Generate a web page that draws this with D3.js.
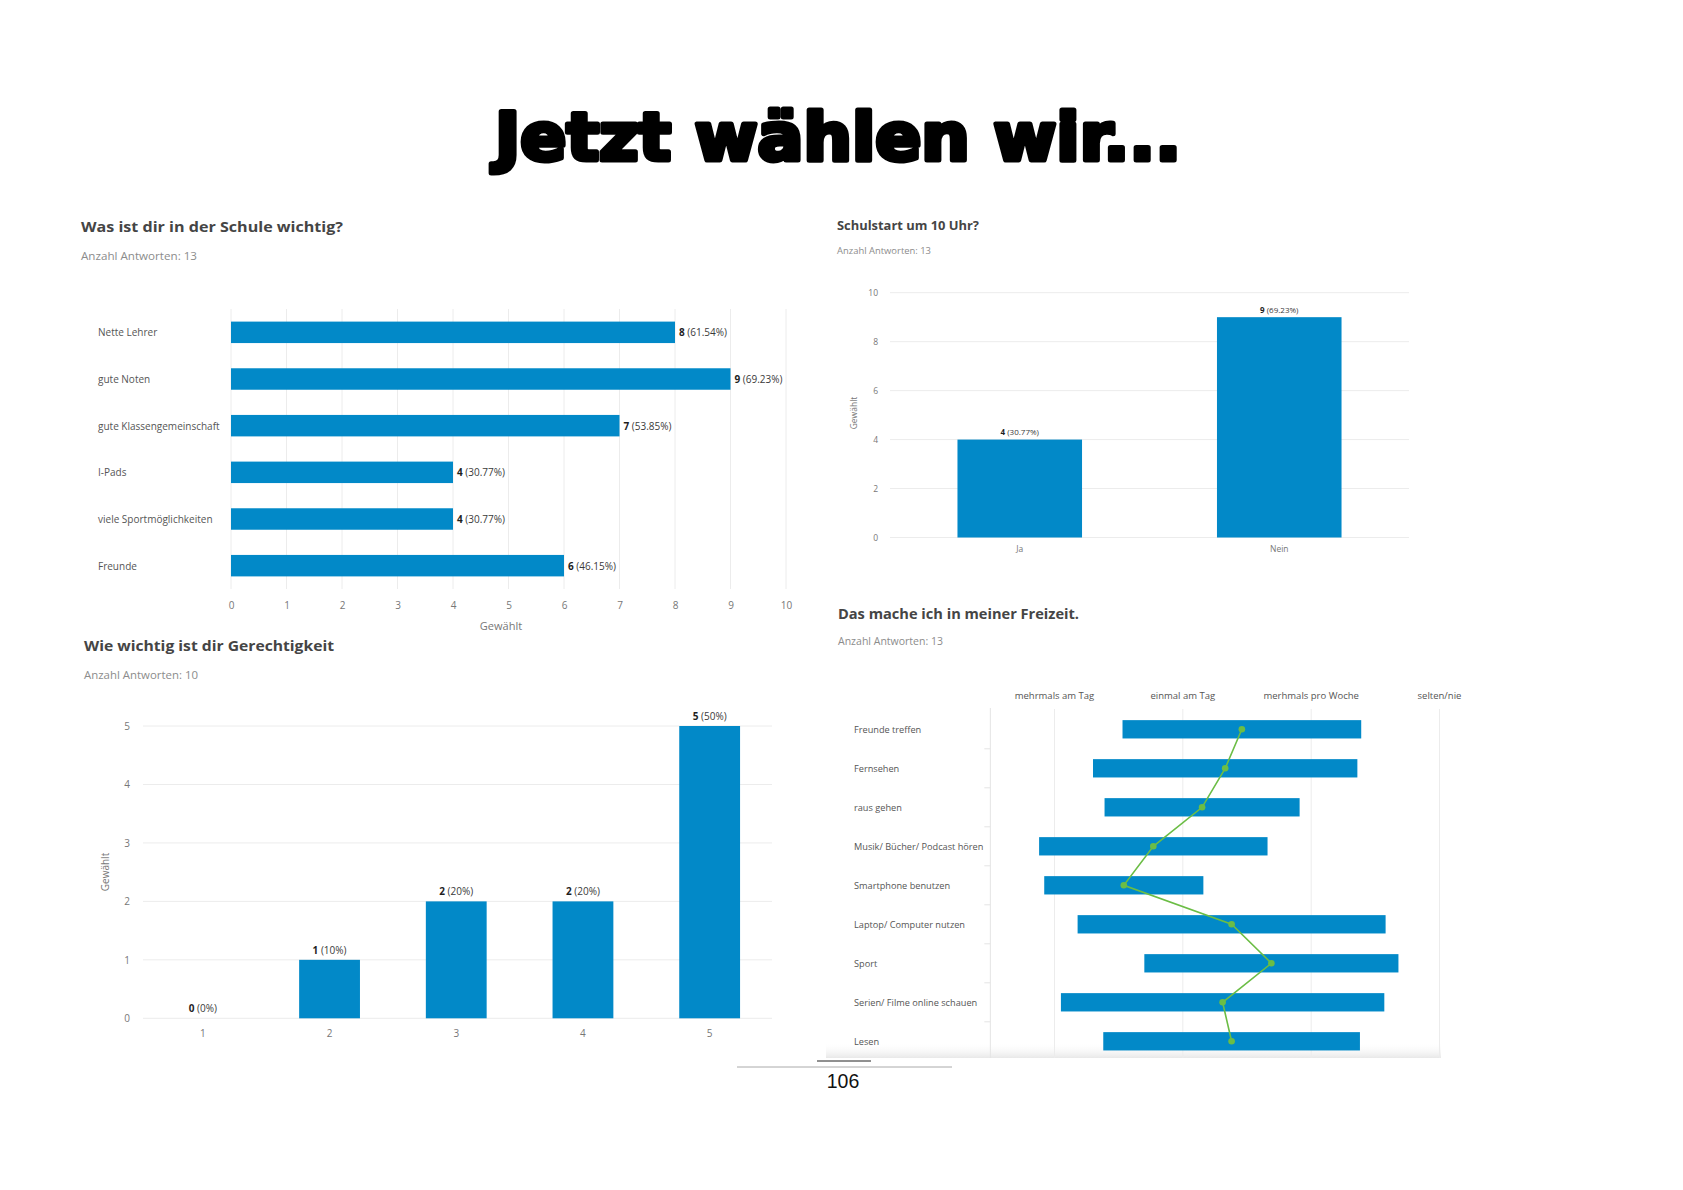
<!DOCTYPE html>
<html>
<head>
<meta charset="utf-8">
<script src="https://cdn.jsdelivr.net/npm/d3@7"></script>
<style>
    body { margin: 0; background: #fff; }
    text { font-family: "Open Sans", sans-serif; }
</style>
</head>
<body>
<div id="page"></div>
<script>
// --- Was ist dir in der Schule wichtig?
var schuleCategories = ["Nette Lehrer", "gute Noten", "gute Klassengemeinschaft", "I-Pads", "viele Sportmöglichkeiten", "Freunde"];
var schuleValues = [8, 9, 7, 4, 4, 6];
var schuleTicks = [0, 1, 2, 3, 4, 5, 6, 7, 8, 9, 10];
var schuleAnzahl = 13;

// --- Schulstart um 10 Uhr?
var startCategories = ["Ja", "Nein"];
var startValues = [4, 9];
var startTicks = [0, 2, 4, 6, 8, 10];
var startAnzahl = 13;

// --- Wie wichtig ist dir Gerechtigkeit
var gerechtCategories = ["1", "2", "3", "4", "5"];
var gerechtValues = [0, 1, 2, 2, 5];
var gerechtTicks = [0, 1, 2, 3, 4, 5];
var gerechtAnzahl = 10;

// --- Das mache ich in meiner Freizeit. (mean +/- sd on a 1..4 scale)
var freizeitCategories = ["Freunde treffen", "Fernsehen", "raus gehen", "Musik/ Bücher/ Podcast hören", "Smartphone benutzen",
    "Laptop/ Computer nutzen", "Sport", "Serien/ Filme online schauen", "Lesen"];
var freizeitMeans = [2.46, 2.33, 2.15, 1.77, 1.54, 2.38, 2.69, 2.31, 2.38];
var freizeitSd = [0.93, 1.03, 0.76, 0.89, 0.62, 1.20, 0.99, 1.26, 1.00];
var freizeitScale = ["mehrmals am Tag", "einmal am Tag", "merhmals pro Woche", "selten/nie"];
var freizeitAnzahl = 13;

var blue = "#0289c8",
    green = "#6bbd45",
    grid = "#ececec";

var svg = d3.select("#page").append("svg")
    .attr("width", 1683)
    .attr("height", 1190);

//squeeze a text to the width it has in the picture
function fit(sel, w) {
    sel.attr("textLength", w).attr("lengthAdjust", "spacingAndGlyphs");
    return sel;
}

function percent(v, n) {
    return "(" + (+(v / n * 100).toFixed(2)) + "%)";
}

function heading(x, y, title, size, w, sub, subY, subSize, subW) {
    fit(svg.append("text")
        .attr("x", x).attr("y", y)
        .attr("dominant-baseline", "central")
        .attr("font-size", size)
        .attr("font-weight", "bold")
        .attr("fill", "#454545")
        .text(title), w);
    fit(svg.append("text")
        .attr("x", x).attr("y", subY)
        .attr("dominant-baseline", "central")
        .attr("font-size", subSize)
        .attr("fill", "#8c8c8c")
        .text(sub), subW);
}

function valueLabel(g, x, y, v, n, anchor, size) {
    var t = g.append("text")
        .attr("x", x).attr("y", y)
        .attr("text-anchor", anchor)
        .attr("dominant-baseline", "central")
        .attr("font-size", size)
        .attr("fill", "#1e1e1e");
    t.append("tspan").attr("font-weight", "bold").text(v);
    t.append("tspan").attr("fill", "#3a3a3a").text(" " + percent(v, n));
}

function styleAxis(g, size) {
    g.select(".domain").remove();
    g.selectAll("text")
        .attr("font-family", "Open Sans")
        .attr("font-size", size)
        .attr("fill", "#777");
}

//page title
fit(svg.append("text")
    .attr("x", 838)
    .attr("y", 160)
    .attr("text-anchor", "middle")
    .style("font-family", "DejaVu Sans")
    .attr("font-weight", "bold")
    .attr("font-size", 66)
    .attr("fill", "#000")
    .attr("stroke", "#000")
    .attr("stroke-width", 5)
    .attr("stroke-linejoin", "round")
    .text("Jetzt wählen wir..."), 686);

// ================= chart 1: horizontal bars
heading(81, 226, "Was ist dir in der Schule wichtig?", 15, 262, "Anzahl Antworten: " + schuleAnzahl, 255, 11, 116);

var x1 = d3.scaleLinear().domain([0, 10]).range([231, 786]);
var y1 = d3.scaleBand().domain(schuleCategories).range([309, 589]).paddingInner(0.54).paddingOuter(0.27);
var c1 = svg.append("g");

c1.selectAll(".grid")
    .data(schuleTicks)
    .enter()
    .append("line")
    .attr("x1", function (d) { return x1(d); })
    .attr("x2", function (d) { return x1(d); })
    .attr("y1", 309)
    .attr("y2", 589)
    .attr("stroke", grid);

var ax1 = c1.append("g")
    .attr("transform", "translate(0,602)")
    .call(d3.axisBottom(x1).tickValues(schuleTicks).tickFormat(d3.format("d")).tickSize(0).tickPadding(0));
styleAxis(ax1, 10);

c1.append("text")
    .attr("x", 501).attr("y", 625)
    .attr("text-anchor", "middle")
    .attr("dominant-baseline", "central")
    .attr("font-size", 11)
    .attr("fill", "#777")
    .text("Gewählt");

c1.selectAll(".cat")
    .data(schuleCategories)
    .enter()
    .append("text")
    .attr("x", 98)
    .attr("y", function (d) { return y1(d) + y1.bandwidth() / 2; })
    .attr("dominant-baseline", "central")
    .attr("font-size", 10)
    .attr("fill", "#555")
    .text(function (d) { return d; });

c1.selectAll(".bar")
    .data(schuleValues)
    .enter()
    .append("rect")
    .attr("x", x1(0))
    .attr("y", function (d, i) { return y1(schuleCategories[i]); })
    .attr("width", function (d) { return x1(d) - x1(0); })
    .attr("height", y1.bandwidth())
    .attr("fill", blue);

schuleValues.forEach(function (d, i) {
    valueLabel(c1, x1(d) + 4, y1(schuleCategories[i]) + y1.bandwidth() / 2, d, schuleAnzahl, "start", 10);
});

// ================= chart 2: Schulstart
heading(837, 225, "Schulstart um 10 Uhr?", 13, 142, "Anzahl Antworten: " + startAnzahl, 250, 9.5, 94);

var x2 = d3.scaleBand().domain(startCategories).range([890, 1409]).paddingInner(0.52).paddingOuter(0.26);
var y2 = d3.scaleLinear().domain([0, 10]).range([537.5, 292.7]);
var c2 = svg.append("g");

c2.selectAll(".grid")
    .data(startTicks)
    .enter()
    .append("line")
    .attr("x1", 890)
    .attr("x2", 1409)
    .attr("y1", function (d) { return y2(d); })
    .attr("y2", function (d) { return y2(d); })
    .attr("stroke", grid);

var ay2 = c2.append("g")
    .attr("transform", "translate(878,0)")
    .call(d3.axisLeft(y2).tickValues(startTicks).tickFormat(d3.format("d")).tickSize(0).tickPadding(0));
styleAxis(ay2, 8.5);

var ax2 = c2.append("g")
    .attr("transform", "translate(0,546)")
    .call(d3.axisBottom(x2).tickSize(0).tickPadding(0));
styleAxis(ax2, 8.5);

c2.append("text")
    .attr("transform", "translate(853,413) rotate(-90)")
    .attr("text-anchor", "middle")
    .attr("dominant-baseline", "central")
    .attr("font-size", 8.5)
    .attr("fill", "#777")
    .text("Gewählt");

c2.selectAll(".bar")
    .data(startValues)
    .enter()
    .append("rect")
    .attr("x", function (d, i) { return x2(startCategories[i]); })
    .attr("y", function (d) { return y2(d); })
    .attr("width", x2.bandwidth())
    .attr("height", function (d) { return y2(0) - y2(d); })
    .attr("fill", blue);

startValues.forEach(function (d, i) {
    valueLabel(c2, x2(startCategories[i]) + x2.bandwidth() / 2, y2(d) - 8.5, d, startAnzahl, "middle", 8);
});

// ================= chart 3: Gerechtigkeit
heading(84, 645, "Wie wichtig ist dir Gerechtigkeit", 15, 250, "Anzahl Antworten: " + gerechtAnzahl, 674, 11, 114);

var x3 = d3.scaleBand().domain(gerechtCategories).range([139.5, 773]).paddingInner(0.52).paddingOuter(0.26);
var y3 = d3.scaleLinear().domain([0, 5]).range([1018.3, 726]);
var c3 = svg.append("g");

c3.selectAll(".grid")
    .data(gerechtTicks)
    .enter()
    .append("line")
    .attr("x1", 143)
    .attr("x2", 772)
    .attr("y1", function (d) { return y3(d); })
    .attr("y2", function (d) { return y3(d); })
    .attr("stroke", grid);

var ay3 = c3.append("g")
    .attr("transform", "translate(130,0)")
    .call(d3.axisLeft(y3).tickValues(gerechtTicks).tickFormat(d3.format("d")).tickSize(0).tickPadding(0));
styleAxis(ay3, 10);

var ax3 = c3.append("g")
    .attr("transform", "translate(0,1030)")
    .call(d3.axisBottom(x3).tickSize(0).tickPadding(0));
styleAxis(ax3, 10);

c3.append("text")
    .attr("transform", "translate(105,872) rotate(-90)")
    .attr("text-anchor", "middle")
    .attr("dominant-baseline", "central")
    .attr("font-size", 10)
    .attr("fill", "#777")
    .text("Gewählt");

c3.selectAll(".bar")
    .data(gerechtValues)
    .enter()
    .append("rect")
    .attr("x", function (d, i) { return x3(gerechtCategories[i]); })
    .attr("y", function (d) { return y3(d); })
    .attr("width", x3.bandwidth())
    .attr("height", function (d) { return y3(0) - y3(d); })
    .attr("fill", blue);

gerechtValues.forEach(function (d, i) {
    valueLabel(c3, x3(gerechtCategories[i]) + x3.bandwidth() / 2, y3(d) - 10, d, gerechtAnzahl, "middle", 10);
});

// ================= chart 4: Freizeit (range bars + mean line)
heading(838, 613, "Das mache ich in meiner Freizeit.", 15, 241, "Anzahl Antworten: " + freizeitAnzahl, 640, 11, 105);

var x4 = d3.scaleLinear().domain([1, 4]).range([1054.5, 1439.5]);
var y4 = d3.scaleBand().domain(freizeitCategories).range([709.8, 1060.8]).paddingInner(0.53).paddingOuter(0.265);
var c4 = svg.append("g");

//soft shadow at the bottom of the screenshot
var grad = svg.append("defs").append("linearGradient")
    .attr("id", "fade").attr("x1", 0).attr("x2", 0).attr("y1", 0).attr("y2", 1);
grad.append("stop").attr("offset", 0).attr("stop-color", "#fff").attr("stop-opacity", 0);
grad.append("stop").attr("offset", 1).attr("stop-color", "#e8e8e8").attr("stop-opacity", 1);
c4.append("rect")
    .attr("x", 826).attr("y", 1042)
    .attr("width", 615).attr("height", 16)
    .attr("fill", "url(#fade)");

c4.selectAll(".grid")
    .data([1, 2, 3, 4])
    .enter()
    .append("line")
    .attr("x1", function (d) { return x4(d); })
    .attr("x2", function (d) { return x4(d); })
    .attr("y1", 709)
    .attr("y2", 1058)
    .attr("stroke", grid);

c4.append("line")
    .attr("x1", x4(0.5)).attr("x2", x4(0.5))
    .attr("y1", 708).attr("y2", 1058)
    .attr("stroke", "#e4e4e4");

//small ticks between the rows
c4.selectAll(".rowtick")
    .data(freizeitCategories.slice(1))
    .enter()
    .append("line")
    .attr("x1", x4(0.5) - 6)
    .attr("x2", x4(0.5))
    .attr("y1", function (d) { return y4(d) - y4.step() * y4.paddingInner() / 2; })
    .attr("y2", function (d) { return y4(d) - y4.step() * y4.paddingInner() / 2; })
    .attr("stroke", "#e4e4e4");

c4.selectAll(".head")
    .data(freizeitScale)
    .enter()
    .append("text")
    .attr("x", function (d, i) { return x4(i + 1); })
    .attr("y", 695)
    .attr("text-anchor", "middle")
    .attr("dominant-baseline", "central")
    .attr("font-size", 9.5)
    .attr("fill", "#555")
    .text(function (d) { return d; });

c4.selectAll(".cat")
    .data(freizeitCategories)
    .enter()
    .append("text")
    .attr("x", 854)
    .attr("y", function (d) { return y4(d) + y4.bandwidth() / 2; })
    .attr("dominant-baseline", "central")
    .attr("font-size", 9.2)
    .attr("fill", "#555")
    .text(function (d) { return d; });

c4.selectAll(".bar")
    .data(freizeitMeans)
    .enter()
    .append("rect")
    .attr("x", function (d, i) { return x4(d - freizeitSd[i]); })
    .attr("y", function (d, i) { return y4(freizeitCategories[i]); })
    .attr("width", function (d, i) { return x4(d + freizeitSd[i]) - x4(d - freizeitSd[i]); })
    .attr("height", y4.bandwidth())
    .attr("fill", blue);

var meanLine = d3.line()
    .x(function (d) { return x4(d); })
    .y(function (d, i) { return y4(freizeitCategories[i]) + y4.bandwidth() / 2; });

c4.append("path")
    .attr("d", meanLine(freizeitMeans))
    .attr("fill", "none")
    .attr("stroke", green)
    .attr("stroke-width", 1.6);

c4.selectAll(".dot")
    .data(freizeitMeans)
    .enter()
    .append("circle")
    .attr("cx", function (d) { return x4(d); })
    .attr("cy", function (d, i) { return y4(freizeitCategories[i]) + y4.bandwidth() / 2; })
    .attr("r", 3.3)
    .attr("fill", green);

// ================= footer
svg.append("line")
    .attr("x1", 817).attr("x2", 871).attr("y1", 1061).attr("y2", 1061)
    .attr("stroke", "#222").attr("stroke-width", 1);
svg.append("line")
    .attr("x1", 737).attr("x2", 952).attr("y1", 1067).attr("y2", 1067)
    .attr("stroke", "#aaa").attr("stroke-width", 1);
svg.append("text")
    .attr("x", 843).attr("y", 1088)
    .attr("text-anchor", "middle")
    .style("font-family", "Liberation Sans")
    .attr("font-size", 19.5)
    .attr("fill", "#111")
    .text("106");
</script>
</body>
</html>
